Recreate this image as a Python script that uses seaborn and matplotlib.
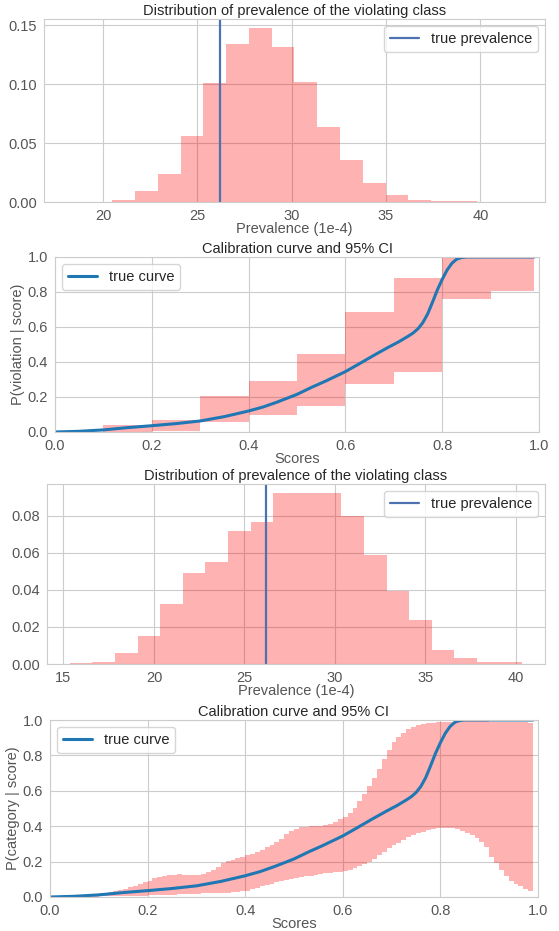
import numpy as np
import pandas as pd
import matplotlib
matplotlib.use("Agg")
import matplotlib.pyplot as plt
import seaborn as sns

sns.set_style("whitegrid", rc={"axes.edgecolor": ".8", "grid.color": ".8"})
plt.rcParams['font.family'] = ['Liberation Sans', 'DejaVu Sans']

_fontsize = 10.5
tick_col = "#555555"

# --- data ---
true_prevalence = 26.2

# histogram 1 (20 bins between min and max of the bootstrap sample)
hist1_range = (18.08, 42.22)
hist1_heights = [0.0001, 0.0001, 0.002, 0.009, 0.024, 0.056, 0.101, 0.134, 0.148, 0.132,
                 0.102, 0.064, 0.036, 0.016, 0.006, 0.002, 0.0011, 0.0006, 0.0002, 0.0001]

# histogram 2
hist2_range = (15.34, 40.36)
hist2_heights = [0.0005, 0.0013, 0.006, 0.0152, 0.0326, 0.0489, 0.0551, 0.0719, 0.0764, 0.092,
                 0.092, 0.0925, 0.080, 0.0589, 0.0392, 0.0238, 0.0075, 0.0032, 0.0013, 0.0013]

# calibration with 10 bins
cal1_edges = [0.0, 0.1, 0.2, 0.3, 0.4, 0.5, 0.6, 0.7, 0.8, 0.9, 0.99]
cal1_lower = [0.0, 0.0, 0.008, 0.059, 0.095, 0.147, 0.272, 0.343, 0.760, 0.808]
cal1_upper = [0.0, 0.040, 0.070, 0.208, 0.291, 0.448, 0.684, 0.880, 1.000, 0.994]

# calibration with 100 bins
cal2_x = [round(0.01 * i, 2) for i in range(100)]
cal2_upper = [0.000, 0.001, 0.002, 0.003, 0.005, 0.007, 0.009, 0.011, 0.013, 0.016,
              0.020, 0.024, 0.028, 0.033, 0.039, 0.046, 0.054, 0.062, 0.072, 0.082,
              0.092, 0.105, 0.113, 0.120, 0.124, 0.127, 0.128, 0.127, 0.124, 0.122,
              0.124, 0.130, 0.140, 0.155, 0.172, 0.190, 0.202, 0.210, 0.219, 0.227,
              0.235, 0.243, 0.252, 0.265, 0.280, 0.295, 0.310, 0.330, 0.355, 0.372,
              0.386, 0.394, 0.398, 0.400, 0.401, 0.403, 0.405, 0.412, 0.425, 0.438,
              0.452, 0.472, 0.505, 0.545, 0.580, 0.625, 0.675, 0.725, 0.780, 0.830,
              0.875, 0.905, 0.928, 0.948, 0.962, 0.972, 0.978, 0.982, 0.985, 0.987,
              0.989, 0.990, 0.991, 0.992, 0.992, 0.992, 0.992, 0.992, 0.992, 0.992,
              0.991, 0.991, 0.990, 0.990, 0.989, 0.988, 0.987, 0.986, 0.985, 0.984]
cal2_lower = [0.000, 0.000, 0.000, 0.000, 0.001, 0.001, 0.001, 0.002, 0.002, 0.002,
              0.003, 0.003, 0.004, 0.004, 0.005, 0.005, 0.006, 0.007, 0.007, 0.008,
              0.009, 0.010, 0.011, 0.012, 0.013, 0.014, 0.015, 0.016, 0.017, 0.018,
              0.019, 0.020, 0.021, 0.022, 0.023, 0.024, 0.025, 0.027, 0.029, 0.032,
              0.036, 0.044, 0.052, 0.060, 0.067, 0.075, 0.083, 0.090, 0.096, 0.101,
              0.106, 0.111, 0.116, 0.120, 0.125, 0.129, 0.133, 0.137, 0.140, 0.143,
              0.147, 0.153, 0.162, 0.175, 0.185, 0.195, 0.215, 0.237, 0.256, 0.278,
              0.293, 0.306, 0.322, 0.338, 0.352, 0.362, 0.370, 0.378, 0.385, 0.390,
              0.392, 0.391, 0.388, 0.382, 0.373, 0.362, 0.348, 0.333, 0.312, 0.285,
              0.228, 0.190, 0.150, 0.120, 0.090, 0.072, 0.060, 0.048, 0.036, 0.025]

# true calibration curve
curve_x = [0.00, 0.05, 0.10, 0.15, 0.20, 0.25, 0.30, 0.35, 0.40, 0.43, 0.46, 0.50, 0.53,
           0.56, 0.60, 0.63, 0.66, 0.69, 0.71, 0.73, 0.74, 0.75, 0.76, 0.77, 0.78, 0.79,
           0.80, 0.81, 0.82, 0.83, 0.84, 0.85, 0.90, 0.99]
curve_y = [0.000, 0.004, 0.012, 0.025, 0.036, 0.048, 0.063, 0.088, 0.120, 0.143, 0.172,
           0.215, 0.255, 0.292, 0.345, 0.392, 0.440, 0.486, 0.515, 0.548, 0.566, 0.590,
           0.625, 0.675, 0.742, 0.812, 0.872, 0.925, 0.964, 0.988, 0.997, 1.000, 1.000,
           1.000]

W, H = 559, 931
fig = plt.figure(figsize=(W / 100, H / 100), dpi=100)


def place(l, t, r, b):
    return fig.add_axes([l / W, 1 - b / H, (r - l) / W, (b - t) / H])


def style(ax):
    ax.tick_params(labelsize=_fontsize, colors=tick_col, pad=1.5)
    ax.xaxis.label.set_color(tick_col)
    ax.yaxis.label.set_color(tick_col)
    for s in ax.spines.values():
        s.set_color(".8")


def prevalence_panel(ax, rng, heights):
    edges = np.linspace(rng[0], rng[1], len(heights) + 1).tolist()
    centers = [(a + b) / 2 for a, b in zip(edges[:-1], edges[1:])]
    df = pd.DataFrame({"prev": centers, "w": heights})
    sns.histplot(data=df, x="prev", weights="w", bins=edges, stat="count",
                 color="red", alpha=0.3, linewidth=0, ax=ax)
    ax.axvline(true_prevalence, color="#4C72B0", lw=1.6, label="true prevalence")
    ax.set_ylabel("")
    ax.set_xlabel("Prevalence (1e-4)", fontsize=_fontsize, labelpad=-1)
    ax.set_title("Distribution of prevalence of the violating class", fontsize=_fontsize, pad=3)
    ax.legend(loc="upper right", fontsize=_fontsize, frameon=True)
    style(ax)


def calib_panel(ax, x, lo, hi, ylabel):
    ax.fill_between(x, lo, hi, step="post", color="red", alpha=0.3, linewidth=0)
    sns.lineplot(x=curve_x, y=curve_y, ax=ax, color="#1f77b4", lw=2.2,
                 label="true curve", estimator=None)
    ax.set_xlim(0, 1)
    ax.set_ylim(0, 1)
    ax.set_xlabel("Scores", fontsize=_fontsize, labelpad=-1)
    ax.set_ylabel(ylabel, fontsize=_fontsize, labelpad=2)
    ax.set_title("Calibration curve and 95% CI", fontsize=_fontsize, pad=3)
    ax.legend(loc="upper left", fontsize=_fontsize, frameon=True)
    style(ax)


ax1 = place(44, 19, 545, 202)
prevalence_panel(ax1, hist1_range, hist1_heights)

ax2 = place(55, 257, 539, 432)
calib_panel(ax2, cal1_edges, cal1_lower + [cal1_lower[-1]], cal1_upper + [cal1_upper[-1]],
            "P(violation | score)")

ax3 = place(47, 484, 545, 664)
prevalence_panel(ax3, hist2_range, hist2_heights)

ax4 = place(50, 720, 538, 897)
calib_panel(ax4, cal2_x, cal2_lower, cal2_upper, "P(category | score)")

plt.savefig("out.png", dpi=100)
